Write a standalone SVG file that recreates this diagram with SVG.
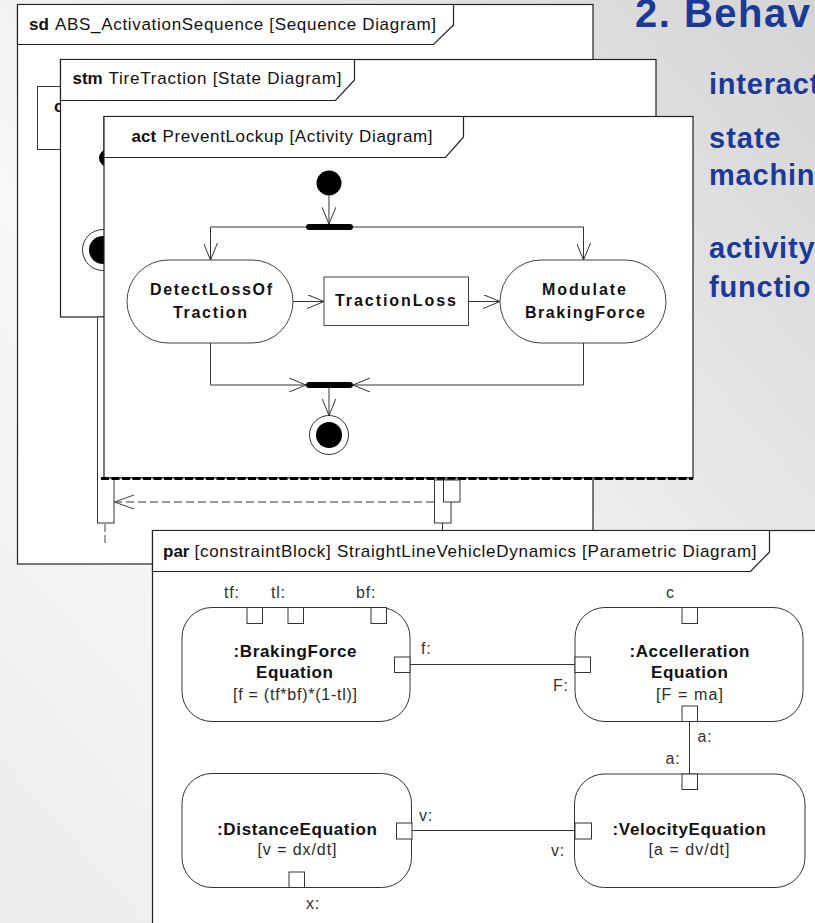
<svg xmlns="http://www.w3.org/2000/svg" width="815" height="923" viewBox="0 0 815 923">
  <defs>
    <linearGradient id="bg" x1="1" y1="0" x2="0" y2="1">
      <stop offset="0" stop-color="#d4d4d4"/>
      <stop offset="0.6" stop-color="#f8f8f8"/>
      <stop offset="1" stop-color="#ececec"/>
    </linearGradient>
    <marker id="arrow" viewBox="0 0 17 14" refX="17" refY="7" markerUnits="userSpaceOnUse" markerWidth="17" markerHeight="14" orient="auto">
      <path d="M0,0 L17,7 L0,14" fill="none" stroke="#333" stroke-width="1"/>
    </marker>
    <marker id="reply" viewBox="0 0 20 16" refX="19.5" refY="8" markerUnits="userSpaceOnUse" markerWidth="20" markerHeight="16" orient="auto">
      <path d="M0,1 L19.5,8 L0,15" fill="none" stroke="#444" stroke-width="1"/>
    </marker>
  </defs>
  <style>
    .frame{fill:#fff;stroke:#222;stroke-width:1.2}
    .t{font-family:"Liberation Sans",Arial,Helvetica,sans-serif;fill:#111}
    .title{font-size:17px}
    .b{font-weight:bold}
    .flow{fill:none;stroke:#333;stroke-width:1}
    .action{fill:#fff;stroke:#444;stroke-width:1}
    .bar{fill:#000}
    .blk{fill:#fff;stroke:#333;stroke-width:1}
    .port{fill:#fff;stroke:#333;stroke-width:1}
    .anode{font-size:16px}
    .pname{font-size:17px}
    .expr{font-size:16px;fill:#2a2a2a}
    .lbl{font-size:16px;fill:#333;letter-spacing:0.8px}
    .life{fill:#fff;stroke:#333;stroke-width:1}
    .head{font-family:"Liberation Sans",Arial,Helvetica,sans-serif;font-weight:bold;fill:#1b3a98}
  </style>

  <!-- slide background -->
  <rect x="0" y="0" width="815" height="923" fill="url(#bg)"/>

  <!-- sequence diagram frame -->
  <g id="sd-frame">
    <rect class="frame" x="17.5" y="4.5" width="575.5" height="559.5"/>
    <path class="frame" d="M17.5,4.5 H453.5 V25 L433.5,44.5 H17.5 Z"/>
    <text class="t title b" x="29" y="30">sd</text>
    <text class="t title" x="55" y="30" textLength="381" lengthAdjust="spacing">ABS_ActivationSequence [Sequence Diagram]</text>
    <rect class="life" x="37.5" y="86.5" width="90" height="63"/>
    <text class="t b" x="54" y="112" font-size="17">c</text>
  </g>

  <!-- state machine frame -->
  <g id="stm-frame">
    <rect class="frame" x="60.5" y="59.5" width="595.5" height="257.5"/>
    <path class="frame" d="M60.5,59.5 H354.5 V80 L335.5,100.5 H60.5 Z"/>
    <text class="t title b" x="72.5" y="84">stm</text>
    <text class="t title" x="108.5" y="84" textLength="233" lengthAdjust="spacing">TireTraction [State Diagram]</text>
    <circle cx="108" cy="158" r="9" fill="#000"/>
    <circle cx="103" cy="250" r="20.5" fill="#fff" stroke="#333" stroke-width="1"/>
    <circle cx="103" cy="250" r="14" fill="#000"/>
  </g>

  <!-- left lifeline activation (passes behind the activity frame) -->
  <g id="lifeline-left">
    <rect class="life" x="97.5" y="317" width="16.5" height="206"/>
    <line x1="105" y1="524" x2="105" y2="545" stroke="#444" stroke-width="1" stroke-dasharray="8 3"/>
  </g>

  <!-- activity frame -->
  <g id="act-frame">
    <rect class="frame" x="104" y="116.5" width="589" height="361.5"/>
    <path class="frame" d="M104,116.5 H463.5 V137 L445.5,157.5 H104 Z"/>
    <text class="t title b" x="131.5" y="142">act</text>
    <text class="t title" x="162.5" y="142" textLength="270" lengthAdjust="spacing">PreventLockup [Activity Diagram]</text>
  </g>

  <!-- activity nodes -->
  <g id="initial"><circle cx="329" cy="183" r="12.5" fill="#000"/></g>
  <g id="fork"><rect class="bar" x="306" y="224" width="47" height="6" rx="3"/></g>
  <g id="DetectLossOfTraction">
    <rect class="action" x="127" y="260" width="166" height="83" rx="41" ry="41.5"/>
    <text class="t anode b" x="150" y="295" textLength="122" lengthAdjust="spacing">DetectLossOf</text>
    <text class="t anode b" x="173" y="318" textLength="74" lengthAdjust="spacing">Traction</text>
  </g>
  <g id="TractionLoss">
    <rect class="action" x="324" y="277" width="144.5" height="48.5"/>
    <text class="t anode b" x="335" y="306" textLength="121" lengthAdjust="spacing">TractionLoss</text>
  </g>
  <g id="ModulateBrakingForce">
    <rect class="action" x="500" y="260" width="166" height="83" rx="41" ry="41.5"/>
    <text class="t anode b" x="542" y="295" textLength="84" lengthAdjust="spacing">Modulate</text>
    <text class="t anode b" x="525" y="318" textLength="120" lengthAdjust="spacing">BrakingForce</text>
  </g>
  <g id="join"><rect class="bar" x="306" y="382" width="47" height="6" rx="3"/></g>
  <g id="final">
    <circle cx="329" cy="435" r="19.5" fill="#fff" stroke="#333" stroke-width="1"/>
    <circle cx="329" cy="435" r="13" fill="#000"/>
  </g>

  <!-- activity flows -->
  <g id="flows">
    <path class="flow" d="M329,195.5 V224" marker-end="url(#arrow)"/>
    <path class="flow" d="M306,227 H210.5 V260" marker-end="url(#arrow)"/>
    <path class="flow" d="M353,227 H583.5 V260" marker-end="url(#arrow)"/>
    <path class="flow" d="M293,301.5 H324" marker-end="url(#arrow)"/>
    <path class="flow" d="M468.5,301.5 H500" marker-end="url(#arrow)"/>
    <path class="flow" d="M210.5,343 V385 H306" marker-end="url(#arrow)"/>
    <path class="flow" d="M583.5,343 V385 H353" marker-end="url(#arrow)"/>
    <path class="flow" d="M329,388 V415.5" marker-end="url(#arrow)"/>
  </g>

  <!-- interaction boundary along the frame bottom -->
  <g id="boundary">
    <line x1="101" y1="478" x2="693" y2="478" stroke="#555" stroke-width="1"/>
    <line x1="101" y1="478.5" x2="693" y2="478.5" stroke="#000" stroke-width="3" stroke-dasharray="8 2.5"/>
  </g>

  <!-- right lifeline activations -->
  <g id="lifeline-right">
    <rect class="life" x="434.5" y="480" width="16.5" height="43"/>
    <rect class="life" x="443.5" y="480" width="16.5" height="22"/>
    <line x1="442.5" y1="523" x2="442.5" y2="531" stroke="#333" stroke-width="1"/>
  </g>

  <!-- reply message -->
  <g id="messages">
    <line x1="434" y1="502" x2="114.5" y2="502" stroke="#333" stroke-width="1" stroke-dasharray="8 4" marker-end="url(#reply)"/>
  </g>

  <!-- parametric diagram frame -->
  <g id="par-frame">
    <rect class="frame" x="152.5" y="530.5" width="700" height="420"/>
    <path class="frame" d="M152.5,530.5 H769.5 V552 L750.5,571.5 H152.5 Z"/>
    <text class="t title b" x="163" y="557">par</text>
    <text class="t title" x="194.5" y="557" textLength="562" lengthAdjust="spacing">[constraintBlock] StraightLineVehicleDynamics [Parametric Diagram]</text>
  </g>

  <!-- binding connectors -->
  <g id="bindings">
    <line class="flow" x1="410" y1="664.5" x2="575" y2="664.5"/>
    <line class="flow" x1="411.5" y1="830.5" x2="575" y2="830.5"/>
    <line class="flow" x1="689.5" y1="722" x2="689.5" y2="774"/>
  </g>

  <g id="BrakingForceEquation">
    <rect class="blk" x="182" y="607.5" width="228" height="114" rx="30"/>
    <rect class="port" x="247" y="607.5" width="15.5" height="16"/>
    <rect class="port" x="288" y="607.5" width="15.5" height="16"/>
    <rect class="port" x="371" y="607.5" width="15.5" height="16"/>
    <rect class="port" x="394.5" y="657" width="15.5" height="15.5"/>
    <text class="t pname b" x="233.5" y="657" textLength="123" lengthAdjust="spacing">:BrakingForce</text>
    <text class="t pname b" x="256" y="677.5" textLength="77" lengthAdjust="spacing">Equation</text>
    <text class="t expr" x="233" y="700" textLength="124" lengthAdjust="spacing">[f = (tf*bf)*(1-tl)]</text>
    <text class="t lbl" x="224" y="598">tf:</text>
    <text class="t lbl" x="271" y="598">tl:</text>
    <text class="t lbl" x="356" y="598">bf:</text>
    <text class="t lbl" x="421" y="653.5">f:</text>
  </g>

  <g id="AccellerationEquation">
    <rect class="blk" x="575" y="607.5" width="228" height="114" rx="30"/>
    <rect class="port" x="682" y="607.5" width="15.5" height="16"/>
    <rect class="port" x="575" y="657" width="15.5" height="15.5"/>
    <rect class="port" x="682" y="706" width="15.5" height="15.5"/>
    <text class="t pname b" x="629.5" y="656.5" textLength="120" lengthAdjust="spacing">:Accelleration</text>
    <text class="t pname b" x="651" y="677.5" textLength="77" lengthAdjust="spacing">Equation</text>
    <text class="t expr" x="656" y="700" textLength="67" lengthAdjust="spacing">[F = ma]</text>
    <text class="t lbl" x="666" y="598">c</text>
    <text class="t lbl" x="553" y="691">F:</text>
    <text class="t lbl" x="697.5" y="742">a:</text>
  </g>

  <g id="DistanceEquation">
    <rect class="blk" x="182" y="773.5" width="229.5" height="114" rx="30"/>
    <rect class="port" x="396.5" y="823" width="15.5" height="16"/>
    <rect class="port" x="289" y="872" width="15.5" height="15.5"/>
    <text class="t pname b" x="217" y="835" textLength="160" lengthAdjust="spacing">:DistanceEquation</text>
    <text class="t expr" x="257.5" y="855" textLength="79" lengthAdjust="spacing">[v = dx/dt]</text>
    <text class="t lbl" x="419" y="820.5">v:</text>
    <text class="t lbl" x="306" y="908.5">x:</text>
  </g>

  <g id="VelocityEquation">
    <rect class="blk" x="574.5" y="774" width="230.5" height="113.5" rx="30"/>
    <rect class="port" x="682" y="774" width="15.5" height="15.5"/>
    <rect class="port" x="575" y="823" width="16.5" height="16"/>
    <text class="t pname b" x="612.5" y="835" textLength="153.5" lengthAdjust="spacing">:VelocityEquation</text>
    <text class="t expr" x="648.5" y="855" textLength="81" lengthAdjust="spacing">[a = dv/dt]</text>
    <text class="t lbl" x="665.5" y="763.5">a:</text>
    <text class="t lbl" x="551" y="855.5">v:</text>
  </g>

  <!-- slide heading and bullet words -->
  <g id="slide-text">
    <text class="head" x="635" y="27" font-size="40" letter-spacing="1.5">2. Behav</text>
    <text class="head" x="709" y="94" font-size="29" letter-spacing="0.8">interact</text>
    <text class="head" x="709" y="148" font-size="29" letter-spacing="1">state</text>
    <text class="head" x="709" y="185" font-size="29" letter-spacing="0.8">machin</text>
    <text class="head" x="709" y="258" font-size="29" letter-spacing="0.8">activity</text>
    <text class="head" x="709" y="297" font-size="29" letter-spacing="0.8">functio</text>
  </g>
</svg>
